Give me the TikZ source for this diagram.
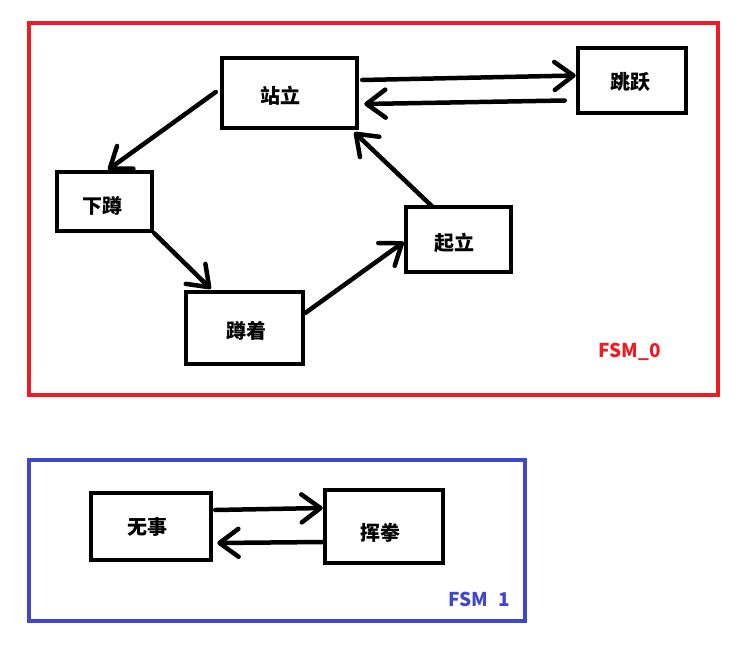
\documentclass[tikz,border=0pt]{standalone}
\usepackage{fontspec}
\newfontfamily\cjk{Noto Sans CJK SC}
\usetikzlibrary{arrows.meta}
\definecolor{fsmred}{RGB}{237,28,36}
\definecolor{fsmblue}{RGB}{63,72,204}
\begin{document}
\begin{tikzpicture}[x=1pt,y=-1pt,
  statebox/.style={draw=black,line width=4.5pt,fill=white,inner sep=0pt},
  txt/.style={inner sep=0pt,font=\cjk\bfseries\fontsize{20}{22}\selectfont},
  frame/.style={line width=4pt},
  trans/.style={line width=4.5pt,line cap=round,-{Straight Barb[length=19pt,width=28pt,line cap=round,line join=round]}},
  fsmlabel/.style={font=\cjk\bfseries\fontsize{19}{22}\selectfont}]
\useasboundingbox (0,0) rectangle (750,645);
\fill[white] (0,0) rectangle (750,645);
% frames
\draw[frame,draw=fsmred] (29,23) rectangle (718,395);
\draw[frame,draw=fsmblue] (29,460) rectangle (525,621);
% states
\node[statebox,minimum width=135pt,minimum height=70pt] (zl) at (289.5,93) {};
\node[statebox,minimum width=108pt,minimum height=65pt] (jy) at (632,80.5) {};
\node[statebox,minimum width=95pt,minimum height=59pt] (xd) at (104.5,201.5) {};
\node[statebox,minimum width=117pt,minimum height=72pt] (dz) at (244.5,328) {};
\node[statebox,minimum width=105pt,minimum height=65pt] (ql) at (458.5,239.5) {};
\node[statebox,minimum width=120pt,minimum height=67pt] (ws) at (151,526.5) {};
\node[statebox,minimum width=118pt,minimum height=73pt] (hq) at (384,526.5) {};
% state texts
\node[txt] (tzl) at (280,96) {站立};
\node[txt] (tjy) at (630,81.5) {跳跃};
\node[txt] (txd) at (102,206) {下蹲};
\node[txt] (tdz) at (246,331) {蹲着};
\node[txt] (tql) at (454,243) {起立};
\node[txt] (tws) at (147,527) {无事};
\node[txt] (thq) at (380.5,532.5) {挥拳};
% labels
\node[fsmlabel,text=fsmred] (l0) at (630,352) {FSM\_0};
\node[fsmlabel,text=fsmblue] (l1) at (479,599) {FSM\hspace{0.55em}1};
% transitions
\draw[trans] ([xshift=3pt,yshift=13pt]zl.east) -- ([yshift=5pt]jy.west);
\draw[trans] ([xshift=-11pt,yshift=-20pt]jy.west) -- ([xshift=5pt,yshift=-11pt]zl.east);
\draw[trans] ([xshift=-26pt,yshift=-2pt]ql.north) -- ([xshift=-5pt,yshift=-2pt]zl.south east);
\draw[trans] ([xshift=-4pt,yshift=1pt]zl.west) -- ([xshift=3.5pt]xd.north);
\draw[trans] ([xshift=0pt]xd.south east) -- ([xshift=27pt,yshift=1pt]dz.north west);
\draw[trans] ([yshift=15pt]dz.east) -- ([yshift=-2.5pt]ql.west);
\draw[trans] ([xshift=2pt,yshift=16.5pt]ws.east) -- ([yshift=18.5pt]hq.west);
\draw[trans] ([yshift=-15.5pt]hq.west) -- ([xshift=4pt,yshift=-16.5pt]ws.east);
\end{tikzpicture}
\end{document}
